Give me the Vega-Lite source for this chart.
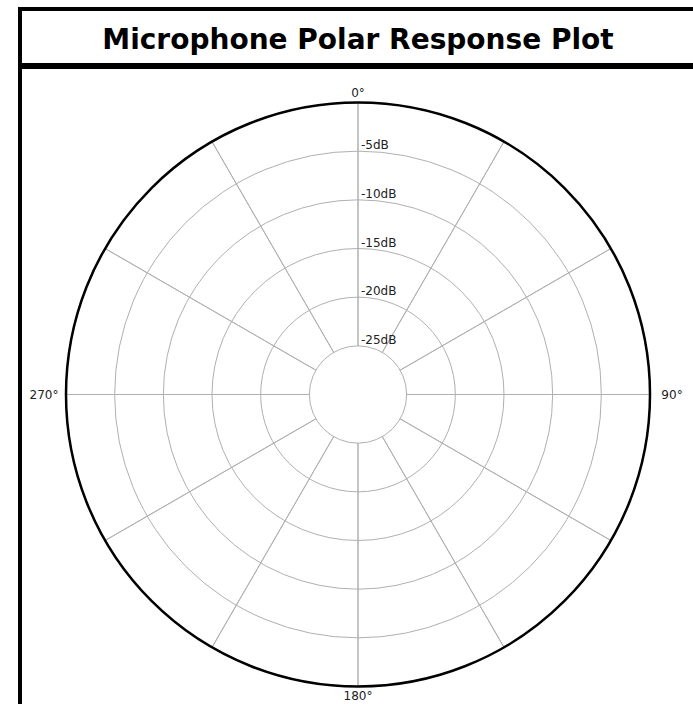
{
  "$schema": "https://vega.github.io/schema/vega-lite/v6.json",
  "padding": {"left": 18, "top": 7, "right": 0, "bottom": 0},
  "spacing": -2,
  "config": {"view": {"stroke": "#000000", "strokeWidth": 4}, "font": "DejaVu Sans"},
  "datasets": {
    "rings": [{"db": -25}, {"db": -20}, {"db": -15}, {"db": -10}, {"db": -5}],
    "outer": [{"db": 0}],
    "spokes": [{"ang": 0}, {"ang": 30}, {"ang": 60}, {"ang": 90}, {"ang": 120}, {"ang": 150}, {"ang": 180}, {"ang": 210}, {"ang": 240}, {"ang": 270}, {"ang": 300}, {"ang": 330}],
    "dblabels": [{"db": -5, "label": "-5dB"}, {"db": -10, "label": "-10dB"}, {"db": -15, "label": "-15dB"}, {"db": -20, "label": "-20dB"}, {"db": -25, "label": "-25dB"}],
    "anglabels": [{"ang": 0, "label": "0°", "axis": "v"}, {"ang": 90, "label": "90°", "axis": "h"}, {"ang": 180, "label": "180°", "axis": "v"}, {"ang": 270, "label": "270°", "axis": "h"}]
  },
  "vconcat": [
    {
      "width": 676,
      "height": 56,
      "view": {"stroke": "#000000", "strokeWidth": 4},
      "data": {"values": [{"title": "Microphone Polar Response Plot"}]},
      "mark": {"type": "text", "font": "DejaVu Sans", "fontWeight": "bold", "fontSize": 28, "baseline": "alphabetic", "align": "center", "dy": 12, "color": "#000000"},
      "encoding": {"text": {"field": "title"}}
    },
    {
      "width": 676,
      "height": 655,
      "view": {"stroke": "#000000", "strokeWidth": 4},
      "layer": [
        {
          "data": {"name": "rings"},
          "mark": {"type": "arc", "fill": "#ffffff", "fillOpacity": 0, "stroke": "#b0b0b0", "strokeWidth": 1},
          "encoding": {
            "theta": {"datum": 0, "type": "quantitative", "stack": null, "scale": {"type": "linear", "domain": [0, 360], "range": [0, 6.283185307179586]}},
            "theta2": {"datum": 360},
            "radius": {"field": "db", "type": "quantitative", "stack": null, "scale": {"type": "linear", "domain": [-30, 0], "range": [0, 292], "zero": false}}
          }
        },
        {
          "data": {"name": "spokes"},
          "mark": {"type": "arc", "fill": "#ffffff", "fillOpacity": 0, "stroke": "#b0b0b0", "strokeWidth": 1},
          "encoding": {
            "theta": {"field": "ang", "type": "quantitative", "stack": null},
            "theta2": {"field": "ang"},
            "radius": {"datum": 0, "type": "quantitative", "stack": null},
            "radius2": {"datum": -25}
          }
        },
        {
          "data": {"name": "outer"},
          "mark": {"type": "arc", "fill": "#ffffff", "fillOpacity": 0, "stroke": "#000000", "strokeWidth": 2.5},
          "encoding": {
            "theta": {"datum": 0, "type": "quantitative", "stack": null},
            "theta2": {"datum": 360},
            "radius": {"field": "db", "type": "quantitative", "stack": null}
          }
        },
        {
          "data": {"name": "dblabels"},
          "mark": {"type": "text", "align": "left", "baseline": "alphabetic", "dx": 3, "dy": -2, "fontSize": 12, "color": "#222222"},
          "encoding": {
            "theta": {"datum": 0, "type": "quantitative", "stack": null},
            "radius": {"field": "db", "type": "quantitative", "stack": null},
            "text": {"field": "label"}
          }
        },
        {
          "data": {"name": "anglabels"},
          "transform": [{"filter": "datum.axis === 'v'"}],
          "mark": {"type": "text", "align": "center", "baseline": "middle", "radiusOffset": 9.5, "fontSize": 12, "color": "#222222"},
          "encoding": {
            "theta": {"field": "ang", "type": "quantitative", "stack": null},
            "radius": {"datum": 0, "type": "quantitative", "stack": null},
            "text": {"field": "label"}
          }
        },
        {
          "data": {"name": "anglabels"},
          "transform": [{"filter": "datum.axis === 'h'"}],
          "mark": {"type": "text", "align": "center", "baseline": "middle", "radiusOffset": 22, "fontSize": 12, "color": "#222222"},
          "encoding": {
            "theta": {"field": "ang", "type": "quantitative", "stack": null},
            "radius": {"datum": 0, "type": "quantitative", "stack": null},
            "text": {"field": "label"}
          }
        }
      ]
    }
  ]
}
